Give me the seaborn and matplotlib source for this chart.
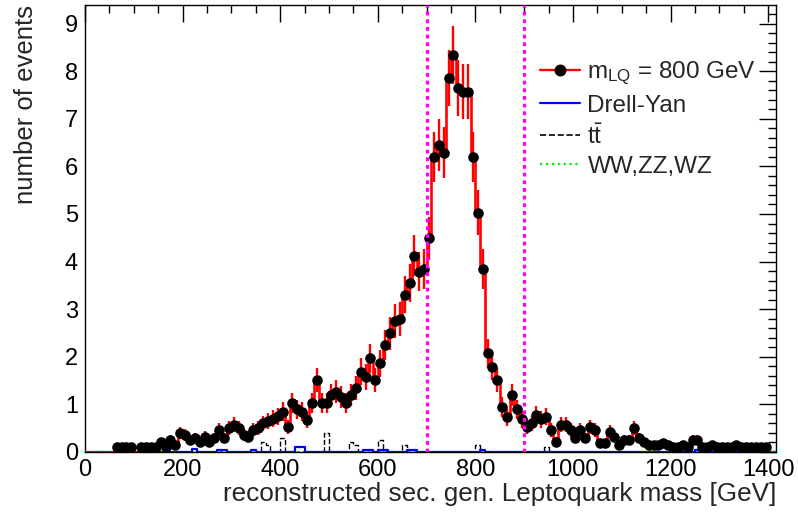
import numpy as np
import pandas as pd
import matplotlib
matplotlib.use("Agg")
import matplotlib.pyplot as plt
from matplotlib.lines import Line2D
from matplotlib.ticker import MultipleLocator
import seaborn as sns

# ---------------- data ----------------
bin_edges = list(range(0, 1430, 10))

signal_mass = [65, 75, 85, 95, 115, 125, 135, 145, 155, 165, 175, 185, 195, 205, 215, 225, 235, 245,
               255, 265, 275, 285, 295, 305, 315, 325, 335, 345, 355, 365, 375, 385, 395, 405,
               415, 425, 435, 445, 455, 465, 475, 485, 495, 505, 515, 525, 535, 545, 555, 565,
               575, 585, 595, 605, 615, 625, 635, 645, 655, 665, 675, 685, 695, 705, 715, 725,
               735, 745, 755, 765, 775, 785, 795, 805, 815, 825, 835, 845, 855, 865, 875, 885,
               895, 905, 915, 925, 935, 945, 955, 965, 975, 985, 995, 1005, 1015, 1025, 1035,
               1045, 1055, 1065, 1075, 1085, 1095, 1105, 1115, 1125, 1135, 1145, 1155, 1165,
               1175, 1185, 1195, 1205, 1215, 1225, 1235, 1245, 1255, 1265, 1275, 1285, 1295,
               1305, 1315, 1325, 1335, 1345, 1355, 1365, 1375, 1385, 1395]
signal_events = [0.10, 0.10, 0.10, 0.10, 0.10, 0.10, 0.10, 0.10, 0.20, 0.10, 0.25, 0.15, 0.40, 0.36, 0.25, 0.29, 0.20, 0.32,
                 0.20, 0.29, 0.46, 0.29, 0.50, 0.57, 0.50, 0.36, 0.32, 0.46, 0.50, 0.60, 0.65, 0.70, 0.75, 0.85,
                 0.53, 1.02, 0.90, 0.85, 0.67, 1.02, 1.51, 1.02, 1.02, 1.20, 1.27, 1.16, 1.02, 1.20, 1.34, 1.69,
                 1.58, 1.97, 1.51, 1.86, 2.25, 2.49, 2.75, 2.80, 3.30, 3.55, 4.12, 3.79, 3.84, 4.49, 6.20, 6.45,
                 6.29, 7.85, 8.34, 7.64, 7.57, 7.57, 6.20, 5.03, 3.84, 2.07, 1.79, 1.51, 0.95, 0.73, 1.20, 0.90,
                 0.69, 0.53, 0.60, 0.78, 0.69, 0.74, 0.46, 0.22, 0.57, 0.57, 0.46, 0.29, 0.46, 0.29, 0.53,
                 0.46, 0.18, 0.18, 0.43, 0.32, 0.15, 0.25, 0.25, 0.50, 0.29, 0.22, 0.15, 0.15,
                 0.15, 0.18, 0.15, 0.11, 0.11, 0.15, 0.10, 0.25, 0.25, 0.11, 0.11, 0.15, 0.10,
                 0.10, 0.10, 0.10, 0.15, 0.10, 0.10, 0.10, 0.10, 0.10, 0.10]
signal_errors = [0.07, 0.07, 0.07, 0.07, 0.07, 0.07, 0.07, 0.07, 0.10, 0.07, 0.11, 0.08, 0.13, 0.13, 0.11, 0.11, 0.10, 0.12,
                 0.10, 0.11, 0.14, 0.11, 0.15, 0.16, 0.15, 0.13, 0.12, 0.14, 0.15, 0.16, 0.17, 0.18, 0.18, 0.20,
                 0.15, 0.21, 0.20, 0.20, 0.17, 0.21, 0.26, 0.21, 0.21, 0.23, 0.24, 0.23, 0.21, 0.23, 0.25, 0.28,
                 0.27, 0.30, 0.26, 0.29, 0.32, 0.34, 0.35, 0.36, 0.39, 0.40, 0.43, 0.41, 0.42, 0.45, 0.53, 0.54,
                 0.53, 0.59, 0.61, 0.59, 0.58, 0.58, 0.53, 0.48, 0.42, 0.31, 0.28, 0.26, 0.21, 0.18, 0.23, 0.20,
                 0.18, 0.15, 0.16, 0.19, 0.18, 0.18, 0.14, 0.10, 0.16, 0.16, 0.14, 0.11, 0.14, 0.11, 0.15,
                 0.14, 0.09, 0.09, 0.14, 0.12, 0.08, 0.11, 0.11, 0.15, 0.11, 0.10, 0.08, 0.08,
                 0.08, 0.09, 0.08, 0.07, 0.07, 0.08, 0.07, 0.11, 0.11, 0.07, 0.07, 0.08, 0.07,
                 0.07, 0.07, 0.07, 0.08, 0.07, 0.07, 0.07, 0.07, 0.07, 0.07]

dy_mass = [95, 225, 275, 285, 345, 435, 445, 575, 585, 605, 615, 665, 675, 815, 1255]
dy_events = [0.05, 0.07, 0.05, 0.05, 0.05, 0.10, 0.10, 0.05, 0.05, 0.05, 0.05, 0.05, 0.05, 0.05, 0.05]

tt_mass = [365, 375, 405, 495, 545, 555, 605, 655, 805, 945, 1205]
tt_events = [0.20, 0.15, 0.30, 0.40, 0.20, 0.15, 0.25, 0.15, 0.15, 0.10, 0.10]

vv_mass = [205, 705, 1205]
vv_events = [0.0, 0.0, 0.0]

cut_window = [700, 900]

labels = ["m$_{LQ}$ = 800 GeV", "Drell-Yan", "$t\\bar{t}$", "WW,ZZ,WZ"]
x_title = "reconstructed sec. gen. Leptoquark mass [GeV]"
y_title = "number of events"

# ---------------- style ----------------
sns.set_theme(style="white")
plt.rcParams["font.family"] = ["Liberation Sans", "DejaVu Sans"]
plt.rcParams["mathtext.fontset"] = "custom"
plt.rcParams["mathtext.rm"] = "Liberation Sans"
plt.rcParams["mathtext.it"] = "Liberation Sans"
plt.rcParams["mathtext.default"] = "regular"

W, H = 798, 518
fig = plt.figure(figsize=(W / 100, H / 100), dpi=100)
fig.patch.set_facecolor("white")
ax = fig.add_axes([85 / W, 1 - 452 / H, (776 - 85) / W, (452 - 5) / H])
ax.set_facecolor("white")

sig = pd.DataFrame({"mass": signal_mass, "events": signal_events, "err": signal_errors})
dy = pd.DataFrame({"mass": dy_mass, "events": dy_events})
tt = pd.DataFrame({"mass": tt_mass, "events": tt_events})
vv = pd.DataFrame({"mass": vv_mass, "events": vv_events})


def step_hist(df, **kw):
    sns.histplot(data=df, x="mass", weights="events", bins=bin_edges, element="step",
                 fill=False, ax=ax, **kw)


# backgrounds
step_hist(vv, color="#00ee00", linewidth=1.6, linestyle=":", zorder=2)
step_hist(tt, color="black", linewidth=1.0, linestyle="--", zorder=2)
step_hist(dy, color="#0000ff", linewidth=1.6, zorder=3)

# signal histogram line, error bars and markers
step_hist(sig, color="#ff0000", linewidth=1.9, zorder=4)
ax.errorbar(sig["mass"], sig["events"], yerr=sig["err"], fmt="none", ecolor="#ff0000",
            elinewidth=1.7, capsize=0, zorder=4)
sns.scatterplot(data=sig, x="mass", y="events", color="black", s=58, edgecolor="black",
                linewidth=0, ax=ax, zorder=5)

for c in cut_window:
    ax.axvline(c, color="#ff00ff", linewidth=2.3, linestyle=(0, (1.2, 1.2)), zorder=6)

ax.set_xlim(0, 1416)
ax.set_ylim(0, 9.39)

ax.xaxis.set_major_locator(MultipleLocator(200))
ax.xaxis.set_minor_locator(MultipleLocator(50))
ax.yaxis.set_major_locator(MultipleLocator(1))
ax.yaxis.set_minor_locator(MultipleLocator(0.2))
ax.tick_params(which="both", direction="in", top=True, right=True, colors="black",
               labelsize=17, width=1)
ax.tick_params(which="major", length=12, pad=5)
ax.tick_params(which="minor", length=6)
for s in ax.spines.values():
    s.set_color("black")
    s.set_linewidth(1)

ax.set_xlabel(x_title, fontsize=18.8, loc="right")
ax.set_ylabel(y_title, fontsize=18.5, loc="top")
ax.xaxis.set_label_coords(1.0, -0.068)
ax.yaxis.set_label_coords(-0.068, 1.0)

handles = [
    Line2D([], [], color="#ff0000", linewidth=1.7, marker="o", markersize=7.6,
           markerfacecolor="black", markeredgecolor="black"),
    Line2D([], [], color="#0000ff", linewidth=1.6),
    Line2D([], [], color="black", linewidth=1.2, linestyle="--"),
    Line2D([], [], color="#00ee00", linewidth=1.6, linestyle=":"),
]
fig.legend(handles, labels, loc="upper left", bbox_to_anchor=(540 / W, 1 - 60 / H),
           frameon=False, fontsize=17.5, handlelength=1.65, handletextpad=0.3,
           labelspacing=0.3, borderpad=0, borderaxespad=0)

fig.savefig("out.png", dpi=100, facecolor="white")
